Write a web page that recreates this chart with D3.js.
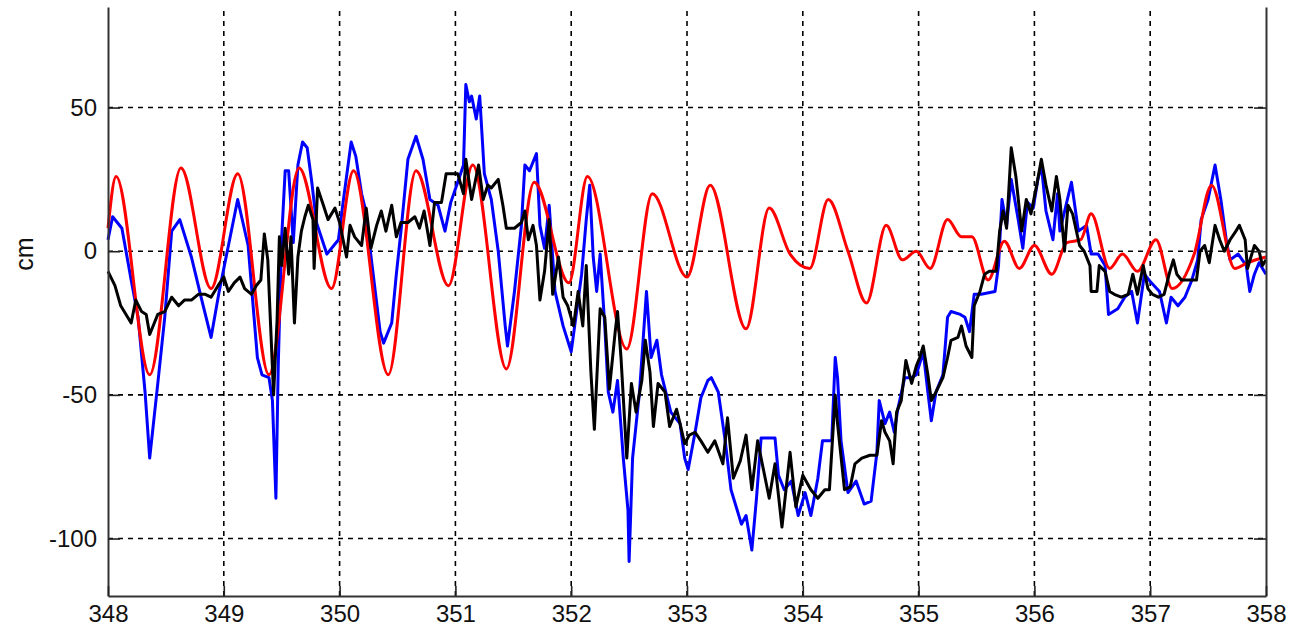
<!DOCTYPE html>
<html>
<head>
<meta charset="utf-8">
<script src="https://cdn.jsdelivr.net/npm/d3@7"></script>
<style>
  body { margin: 0; background: #fff; }
  svg { display: block; }
  text { font-family: "Liberation Sans", Arial, Helvetica, sans-serif; fill: #111; }
</style>
</head>
<body>
<div id="chart"></div>
<script>
const xTicks = [348, 349, 350, 351, 352, 353, 354, 355, 356, 357, 358];
const yTicks = [-100, -50, 0, 50];

// [day, cm]
const tide = [
  [348.00, 8], [348.07, 26], [348.36, -43], [348.63, 29], [348.89, -13], [349.12, 27],
  [349.39, -43], [349.65, 29], [349.93, -13], [350.12, 28], [350.42, -43], [350.66, 28],
  [350.94, -12], [351.15, 30], [351.44, -41], [351.68, 24], [351.98, -11], [352.14, 26],
  [352.48, -34], [352.70, 20], [353.00, -9], [353.20, 23], [353.51, -27], [353.71, 15],
  [353.89, -1], [354.06, -6], [354.22, 18], [354.39, 0], [354.55, -18], [354.72, 9],
  [354.86, -3], [354.98, 0], [355.10, -6], [355.25, 11], [355.37, 5], [355.46, 5],
  [355.60, -10], [355.74, 3.5], [355.87, -6], [356.00, 2], [356.15, -8], [356.28, 3],
  [356.40, 4], [356.49, 13], [356.65, -6], [356.76, -1], [356.89, -7], [357.05, 4],
  [357.19, -13], [357.38, -1], [357.53, 23], [357.73, -6], [357.84, -4], [358.00, -2]
];

const observed = [
  [348.00, 4], [348.04, 12], [348.12, 8], [348.20, -10], [348.26, -23], [348.32, -49],
  [348.36, -72], [348.43, -46], [348.49, -23], [348.55, 7], [348.62, 11], [348.72, -2],
  [348.81, -17], [348.89, -30], [348.96, -14], [349.04, 2], [349.12, 18], [349.21, 2],
  [349.29, -37], [349.33, -43], [349.39, -44], [349.42, -52], [349.45, -86], [349.47, -40],
  [349.50, 5], [349.53, 28], [349.56, 28], [349.60, 3], [349.64, 30], [349.68, 38],
  [349.72, 36], [349.76, 24], [349.80, 10], [349.89, -1], [349.99, 4], [350.03, 17],
  [350.10, 38], [350.14, 33], [350.19, 20], [350.22, 15], [350.29, -8], [350.35, -28],
  [350.38, -32], [350.45, -25], [350.49, -8], [350.53, 7], [350.59, 32], [350.66, 40],
  [350.72, 32], [350.78, 18], [350.85, 16], [350.91, 7], [350.96, 17], [351.02, 24],
  [351.07, 30], [351.09, 58], [351.12, 52], [351.14, 54], [351.18, 46], [351.21, 54],
  [351.25, 27], [351.31, 18], [351.37, 0], [351.43, -26], [351.45, -33], [351.51, -14],
  [351.57, 9], [351.60, 30], [351.64, 28], [351.70, 34], [351.73, 9], [351.77, 1],
  [351.81, 16], [351.86, -14], [351.93, -26], [352.00, -35], [352.03, -26], [352.09, -8],
  [352.13, 11], [352.16, 23], [352.19, -2], [352.22, -14], [352.25, -1], [352.29, -26],
  [352.32, -49], [352.36, -56], [352.40, -45], [352.45, -72], [352.49, -90], [352.50, -108],
  [352.53, -72], [352.59, -49], [352.65, -14], [352.69, -37], [352.74, -31], [352.78, -43],
  [352.86, -56], [352.94, -60], [352.98, -72], [353.01, -76], [353.07, -63], [353.12, -51],
  [353.18, -45], [353.21, -44], [353.27, -49], [353.33, -66], [353.38, -83], [353.47, -95],
  [353.51, -92], [353.56, -104], [353.60, -86], [353.64, -65], [353.70, -65], [353.76, -65],
  [353.79, -78], [353.84, -83], [353.90, -80], [353.96, -92], [354.02, -84], [354.07, -92],
  [354.13, -79], [354.17, -66], [354.25, -66], [354.28, -37], [354.30, -44], [354.33, -66],
  [354.39, -84], [354.46, -80], [354.53, -88], [354.59, -87], [354.64, -70], [354.66, -52],
  [354.71, -60], [354.75, -56], [354.79, -63], [354.82, -55], [354.88, -44], [354.94, -44],
  [354.98, -43], [355.04, -35], [355.08, -49], [355.11, -59], [355.15, -49], [355.21, -43],
  [355.25, -23], [355.28, -21], [355.36, -22], [355.40, -23], [355.44, -28], [355.48, -15],
  [355.54, -15], [355.66, -14], [355.69, -5], [355.72, 18], [355.76, 9], [355.80, 25],
  [355.86, 11], [355.90, 1], [355.94, 17], [355.99, 15], [356.03, 25], [356.06, 30],
  [356.10, 14], [356.16, 4], [356.20, 20], [356.22, 7], [356.32, 24], [356.38, 7],
  [356.45, 9], [356.49, -1], [356.55, -1], [356.61, -5], [356.64, -22], [356.72, -20],
  [356.78, -16], [356.84, -14], [356.89, -25], [356.95, -8], [357.01, -11], [357.08, -14],
  [357.14, -25], [357.18, -16], [357.24, -19], [357.30, -16], [357.36, -10], [357.41, -3],
  [357.44, 11], [357.50, 18], [357.56, 30], [357.61, 18], [357.66, 3], [357.69, -3],
  [357.76, -1], [357.83, -5], [357.86, -14], [357.90, -8], [357.94, -4], [358.00, -8]
];

const residual = [
  [348.00, -7], [348.06, -12], [348.11, -19], [348.17, -23], [348.20, -25], [348.24, -17],
  [348.29, -21], [348.33, -22], [348.36, -29], [348.40, -25], [348.43, -22], [348.49, -21],
  [348.55, -16], [348.61, -19], [348.66, -17], [348.72, -17], [348.78, -15], [348.84, -15],
  [348.89, -16], [348.95, -12], [349.00, -9], [349.04, -14], [349.09, -11], [349.14, -9],
  [349.18, -13], [349.24, -15], [349.28, -12], [349.32, -10], [349.35, 6], [349.38, -3],
  [349.40, -22], [349.43, -50], [349.46, -24], [349.48, 5], [349.50, -5], [349.53, 8],
  [349.56, -8], [349.58, 5], [349.61, -25], [349.64, -2], [349.67, 7], [349.70, 12],
  [349.73, 16], [349.77, 11], [349.78, -6], [349.81, 22], [349.86, 16], [349.90, 11],
  [349.96, 15], [350.00, 10], [350.06, -2], [350.09, 9], [350.13, 5], [350.19, 2],
  [350.23, 15], [350.27, 1], [350.32, 9], [350.36, 14], [350.40, 7], [350.45, 16],
  [350.49, 5], [350.53, 10], [350.59, 10], [350.65, 12], [350.69, 8], [350.73, 14],
  [350.78, 2], [350.82, 17], [350.88, 17], [350.92, 27], [350.96, 27], [351.02, 27],
  [351.07, 20], [351.09, 32], [351.14, 18], [351.20, 30], [351.24, 18], [351.28, 23],
  [351.31, 22], [351.37, 25], [351.41, 16], [351.44, 8], [351.51, 8], [351.57, 10],
  [351.60, 14], [351.63, 4], [351.67, 9], [351.70, 2], [351.73, -17], [351.77, -7],
  [351.81, 11], [351.84, -15], [351.89, -2], [351.93, -16], [351.97, -19], [352.02, -26],
  [352.06, -14], [352.10, -26], [352.13, -5], [352.17, -42], [352.20, -62], [352.25, -20],
  [352.29, -23], [352.33, -48], [352.38, -28], [352.40, -21], [352.43, -37], [352.48, -72],
  [352.52, -46], [352.56, -56], [352.61, -45], [352.64, -31], [352.68, -42], [352.71, -61],
  [352.75, -46], [352.81, -49], [352.85, -61], [352.91, -55], [352.94, -60], [352.98, -67],
  [353.02, -64], [353.07, -63], [353.12, -66], [353.18, -70], [353.24, -66], [353.31, -74],
  [353.35, -58], [353.40, -79], [353.46, -73], [353.51, -64], [353.56, -83], [353.61, -66],
  [353.67, -78], [353.71, -86], [353.76, -74], [353.82, -96], [353.89, -70], [353.94, -89],
  [354.00, -78], [354.07, -83], [354.13, -86], [354.19, -83], [354.23, -83], [354.28, -50],
  [354.30, -60], [354.36, -83], [354.41, -82], [354.45, -74], [354.51, -72], [354.58, -71],
  [354.64, -71], [354.68, -59], [354.71, -63], [354.75, -66], [354.78, -74], [354.81, -56],
  [354.85, -52], [354.89, -38], [354.94, -46], [354.98, -40], [355.01, -37], [355.04, -33],
  [355.08, -43], [355.11, -52], [355.15, -49], [355.21, -44], [355.25, -37], [355.28, -31],
  [355.34, -30], [355.37, -26], [355.41, -33], [355.46, -37], [355.48, -19], [355.53, -14],
  [355.57, -8], [355.61, -7], [355.67, -7], [355.70, 7], [355.73, 14], [355.76, 8],
  [355.80, 36], [355.84, 26], [355.89, 7], [355.93, 18], [355.97, 13], [356.02, 23],
  [356.06, 32], [356.10, 23], [356.15, 14], [356.19, 26], [356.22, 18], [356.26, 0],
  [356.29, 16], [356.33, 13], [356.39, 2], [356.43, 0], [356.48, -5], [356.49, -14],
  [356.54, -14], [356.56, -5], [356.61, -7], [356.65, -14], [356.69, -15], [356.75, -16],
  [356.81, -15], [356.85, -8], [356.89, -15], [356.94, -5], [356.98, -13], [357.02, -15],
  [357.07, -16], [357.12, -15], [357.17, -7], [357.20, -3], [357.23, -8], [357.27, -10],
  [357.33, -10], [357.40, -10], [357.43, 0], [357.47, 2], [357.51, -4], [357.56, 9],
  [357.60, 4], [357.64, 0], [357.69, 4], [357.74, 7], [357.77, 9], [357.82, 4],
  [357.84, -6], [357.90, 2], [357.94, 0], [357.97, -5], [358.00, -3]
];

const width = 1305;
const height = 631;
const margin = { top: 7, right: 39, bottom: 35, left: 108 };

const svg = d3.select('#chart')
  .append('svg')
  .attr('width', width)
  .attr('height', height);

const x = d3.scaleLinear()
  .domain([348, 358])
  .range([margin.left, width - margin.right]);

const y = d3.scaleLinear()
  .domain([-120, 85])
  .range([height - margin.bottom, margin.top]);

// dashed grid
const grid = svg.append('g')
  .attr('stroke', '#000')
  .attr('stroke-width', 1.6)
  .attr('stroke-dasharray', '5,5');

grid.selectAll('line.v')
  .data(xTicks.slice(1, -1))
  .join('line')
    .attr('class', 'v')
    .attr('x1', d => x(d)).attr('x2', d => x(d))
    .attr('y1', y(-120)).attr('y2', y(85));

grid.selectAll('line.h')
  .data(yTicks)
  .join('line')
    .attr('class', 'h')
    .attr('x1', x(348)).attr('x2', x(358))
    .attr('y1', d => y(d)).attr('y2', d => y(d));

const line = d3.line()
  .x(d => x(d[0]))
  .y(d => y(d[1]));

const smooth = d3.line()
  .x(d => x(d[0]))
  .y(d => y(d[1]))
  .curve(d3.curveMonotoneX);

svg.append('path')
  .datum(observed)
  .attr('fill', 'none')
  .attr('stroke', '#0000ff')
  .attr('stroke-width', 3)
  .attr('stroke-linejoin', 'round')
  .attr('d', line);

svg.append('path')
  .datum(tide)
  .attr('fill', 'none')
  .attr('stroke', '#ff0000')
  .attr('stroke-width', 3)
  .attr('stroke-linejoin', 'round')
  .attr('d', smooth);

svg.append('path')
  .datum(residual)
  .attr('fill', 'none')
  .attr('stroke', '#000')
  .attr('stroke-width', 3)
  .attr('stroke-linejoin', 'round')
  .attr('d', line);

// axes
function yAxis(g) {
  g.attr('transform', `translate(${margin.left},0)`)
    .call(d3.axisLeft(y).tickValues(yTicks).tickFormat(d => String(d)).tickSize(-12).tickSizeOuter(0).tickPadding(11))
    .call(g => g.select('.domain').attr('stroke', '#333').attr('stroke-width', 2))
    .call(g => g.selectAll('.tick line').attr('stroke', '#222').attr('stroke-width', 1.6))
    .call(g => g.selectAll('text').attr('font-size', '24px').attr('fill', '#111'));
}

function yAxisRight(g) {
  g.attr('transform', `translate(${width - margin.right},0)`)
    .call(d3.axisRight(y).tickValues(yTicks).tickSize(-12).tickSizeOuter(0).tickFormat(''))
    .call(g => g.select('.domain').attr('stroke', '#333').attr('stroke-width', 2))
    .call(g => g.selectAll('.tick line').attr('stroke', '#222').attr('stroke-width', 1.6));
}

function xAxis(g) {
  g.attr('transform', `translate(0,${height - margin.bottom})`)
    .call(d3.axisBottom(x).tickValues(xTicks).tickFormat(d => String(d)).tickSize(-10).tickSizeOuter(0).tickPadding(9))
    .call(g => g.select('.domain').attr('stroke', '#333').attr('stroke-width', 2))
    .call(g => g.selectAll('.tick line').attr('stroke', '#222').attr('stroke-width', 1.6))
    .call(g => g.selectAll('text').attr('font-size', '24px').attr('fill', '#111'));
}

svg.append('g').call(yAxis);
svg.append('g').call(yAxisRight);
svg.append('g').call(xAxis);

svg.selectAll('.tick text').attr('font-family', '"Liberation Sans", Arial, sans-serif');

svg.append('text')
  .attr('transform', `translate(33,254) rotate(-90)`)
  .attr('text-anchor', 'middle')
  .attr('font-size', '25px')
  .text('cm');
</script>
</body>
</html>
